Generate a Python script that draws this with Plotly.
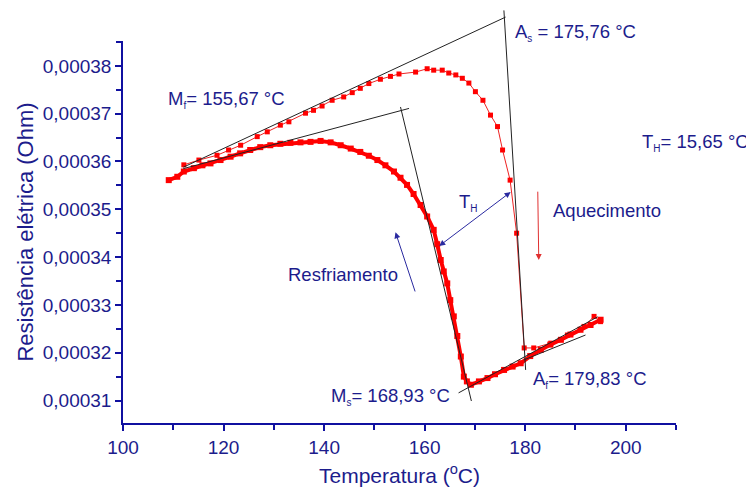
import plotly.graph_objects as go

# ---------------- data (T in °C, R in units of 1e-5 Ohm) ----------------
heat_T = [112.1, 115.1, 118.7, 121.0, 123.4, 126.7, 128.7, 131.3, 133.0, 136.3, 137.9,
          139.6, 141.6, 143.9, 145.6, 147.2, 148.9, 151.2, 153.2, 154.9, 158.2, 160.5,
          161.8, 163.5, 164.8, 166.2, 167.5, 168.8, 170.1, 171.6, 173.1, 174.5, 175.5,
          177.0, 178.3, 179.8, 181.7, 185.1, 188.4, 191.7, 193.7, 195.0]
heat_R = [35.93, 36.03, 36.13, 36.24, 36.34, 36.52, 36.62, 36.76, 36.83, 37.01, 37.07,
          37.16, 37.28, 37.35, 37.44, 37.53, 37.63, 37.72, 37.78, 37.83, 37.87, 37.94,
          37.91, 37.91, 37.85, 37.81, 37.74, 37.64, 37.46, 37.28, 36.97, 36.73, 36.24,
          35.61, 34.50, 32.10, 32.10, 32.20, 32.37, 32.55, 32.76, 32.65]

cool_T = [195.0, 193.0, 191.0, 189.0, 187.1, 185.0, 183.1, 181.0, 179.1, 177.5, 175.8,
          174.0, 172.5, 170.8, 169.2, 168.4, 167.8, 167.2, 166.5, 165.8, 165.1, 164.5,
          163.8, 163.2, 162.5, 161.8, 160.5, 159.2, 157.8, 156.5, 155.2, 153.9, 152.2,
          150.6, 148.9, 147.2, 145.3, 143.3, 141.3, 139.3, 137.3, 135.3, 133.3, 131.3,
          129.3, 127.3, 125.3, 123.3, 121.4, 119.4, 117.4, 115.8, 114.1, 112.1, 110.8,
          109.1]
cool_R = [32.69, 32.58, 32.48, 32.38, 32.27, 32.17, 32.06, 31.93, 31.78, 31.71, 31.64,
          31.55, 31.47, 31.40, 31.33, 31.40, 31.50, 31.92, 32.35, 32.76, 33.10, 33.45,
          33.70, 33.94, 34.27, 34.57, 34.85, 35.09, 35.32, 35.51, 35.66, 35.79, 35.92,
          36.03, 36.12, 36.20, 36.27, 36.34, 36.40, 36.43, 36.41, 36.40, 36.39, 36.37,
          36.34, 36.30, 36.24, 36.17, 36.10, 36.03, 35.96, 35.92, 35.86, 35.79, 35.68,
          35.61]

SCALE = 1e-5
heat_R = [r * SCALE for r in heat_R]
cool_R = [r * SCALE for r in cool_R]

# tangent construction lines: (T0, R0, T1, R1), R in 1e-5 Ohm
tangents = [
    (112.0, 35.88, 176.1, 39.02),
    (175.77, 39.16, 180.09, 31.64),
    (112.0, 35.85, 156.9, 37.11),
    (155.2, 37.14, 169.3, 30.99),
    (166.75, 31.16, 194.4, 32.75),
    (179.75, 31.85, 192.0, 32.37),
]

# arrows: (T_head, R_head, T_tail, R_tail, colour, double)
arrows = [
    (177.1, 35.36, 162.6, 34.21, "#2a2aa0", True),
    (154.2, 34.52, 158.2, 33.25, "#2a2aa0", False),
    (182.7, 33.94, 182.5, 35.40, "#e03030", False),
]

SUB = "<sub><span style='font-size:10px'>%s</span></sub>"
labels = [
    ("M" + SUB % "f" + "= 155,67 °C", 0.187, 0.846),
    ("A" + SUB % "s" + " = 175,76 °C", 0.819, 1.0215),
    ("T" + SUB % "H" + "= 15,65 °C", 1.036, 0.733),
    ("A" + SUB % "f" + "= 179,83 °C", 0.845, 0.113),
    ("M" + SUB % "s" + "= 168,93 °C", 0.483, 0.069),
    ("Resfriamento", 0.398, 0.388),
    ("Aquecimento", 0.875, 0.555),
    ("T" + SUB % "H", 0.624, 0.576),
]

X0, X1 = 100, 210
Y0, Y1 = 0.0003053, 0.0003852

TXT = "#1c1c8c"
AX = "#1010a0"
FONT = "Liberation Sans"

fig = go.Figure()
fig.add_trace(go.Scatter(x=heat_T, y=heat_R, mode="lines+markers",
                         line=dict(color="#ee2222", width=1),
                         marker=dict(symbol="square", size=5, color="#ff0000"),
                         showlegend=False))
fig.add_trace(go.Scatter(x=cool_T, y=cool_R, mode="lines+markers",
                         line=dict(color="#ff0000", width=4),
                         marker=dict(symbol="square", size=6, color="#ff0000"),
                         showlegend=False))

def pxf(t):
    return (t - X0) / (X1 - X0)

def pyf(r):
    return (r - Y0) / (Y1 - Y0)

for t0, r0, t1, r1 in tangents:
    fig.add_shape(type="line", xref="paper", yref="paper",
                  x0=pxf(t0), y0=pyf(r0 * SCALE), x1=pxf(t1), y1=pyf(r1 * SCALE),
                  line=dict(color="#222222", width=1))

for th, rh, tt, rt, col, dbl in arrows:
    fig.add_annotation(x=th, y=rh * SCALE, ax=tt, ay=rt * SCALE,
                       xref="x", yref="y", axref="x", ayref="y", text="",
                       showarrow=True, arrowhead=2, arrowsize=1.2, arrowwidth=1,
                       arrowcolor=col, startarrowhead=2, startarrowsize=1.2,
                       arrowside="end+start" if dbl else "end")

for txt, x, y in labels:
    fig.add_annotation(text=txt, x=x, y=y, xref="paper", yref="paper",
                       showarrow=False, xanchor="center", yanchor="middle",
                       font=dict(family=FONT, size=18.5, color=TXT))

# page body has an 8px margin, so the figure is sized/offset to compensate
fig.update_layout(
    width=746, height=489,
    margin=dict(l=115, r=78, t=33, b=74),
    plot_bgcolor="white", paper_bgcolor="white",
    separators=",.",
    font=dict(family=FONT, size=18, color=TXT),
)
fig.update_xaxes(range=[X0, X1], showgrid=False, zeroline=False, showline=True,
                 linecolor=AX, linewidth=1.5, ticks="outside", ticklen=6,
                 tickwidth=1.5, tickcolor=AX, tick0=100, dtick=20,
                 minor=dict(ticks="outside", dtick=10, ticklen=5, tickcolor=AX, tickwidth=1.5),
                 tickfont=dict(family=FONT, size=19, color=TXT),
                 title=dict(text="Temperatura (<sup>o</sup>C)", standoff=12,
                            font=dict(family=FONT, size=21, color=TXT)))
fig.update_yaxes(range=[Y0, Y1], showgrid=False, zeroline=False, showline=True,
                 linecolor=AX, linewidth=1.5, ticks="outside", ticklen=6,
                 tickwidth=1.5, tickcolor=AX, tick0=0.00031, dtick=0.00001,
                 tickformat=".5f",
                 minor=dict(ticks="outside", dtick=0.000005, ticklen=5, tickcolor=AX, tickwidth=1.5),
                 tickfont=dict(family=FONT, size=19, color=TXT),
                 title=dict(text="Resistência elétrica (Ohm)", standoff=3,
                            font=dict(family=FONT, size=22, color=TXT)))

fig.write_html("out.html")
